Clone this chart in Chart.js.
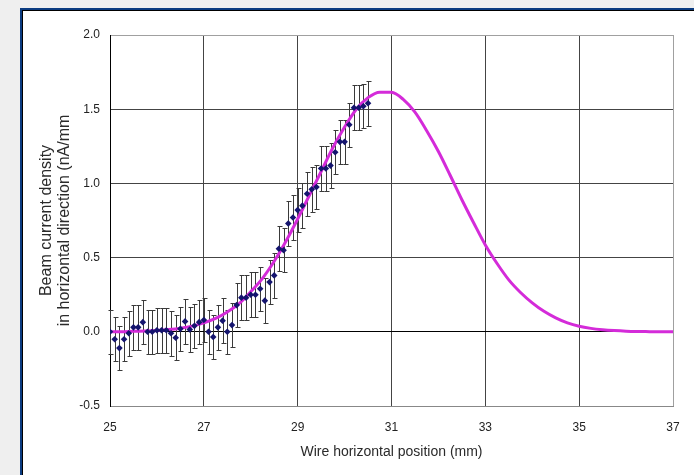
<!DOCTYPE html>
<html>
<head>
<meta charset="utf-8">
<script src="https://cdn.jsdelivr.net/npm/chart.js@4.4.0/dist/chart.umd.min.js"></script>
<style>
  html, body { margin: 0; padding: 0; background: #efefef; }
  #wrap { position: relative; width: 694px; height: 475px; overflow: hidden; }
  #frame { position: absolute; left: 20px; top: 8px; width: 700px; height: 500px; background: #fff;
    border-left: 2px solid #0b3b80; border-top: 2px solid #0b3b80; box-shadow: inset 1px 1px 0 #000; }
  #chart { position: absolute; left: 0; top: 0; }
</style>
</head>
<body>
<div id="wrap">
  <div id="frame"></div>
  <canvas id="chart" width="694" height="475"></canvas>
</div>
<script>
// measured wire positions (mm)
const posX = [
  25.0, 25.1, 25.2, 25.3, 25.4, 25.5, 25.6, 25.7, 25.8, 25.9,
  26.0, 26.1, 26.2, 26.3, 26.4, 26.5, 26.6, 26.7, 26.8, 26.9,
  27.0, 27.1, 27.2, 27.3, 27.4, 27.5, 27.6, 27.7, 27.8, 27.9,
  28.0, 28.1, 28.2, 28.3, 28.4, 28.5, 28.6, 28.7, 28.8, 28.9,
  29.0, 29.1, 29.2, 29.3, 29.4, 29.5, 29.6, 29.7, 29.8, 29.9,
  30.0, 30.1, 30.2, 30.3, 30.4, 30.5
];
// measured current density (nA/mm)
const density = [
  0.00, -0.05, -0.11, -0.05, -0.01, 0.03, 0.03, 0.065, 0.00, 0.00,
  0.01, 0.01, 0.01, -0.01, -0.04, 0.02, 0.07, 0.015, 0.04, 0.065,
  0.08, 0.00, -0.035, 0.03, 0.075, 0.00, 0.045, 0.18, 0.23, 0.23,
  0.25, 0.25, 0.29, 0.21, 0.335, 0.38, 0.56, 0.55, 0.73, 0.77,
  0.82, 0.85, 0.93, 0.96, 0.975, 1.10, 1.10, 1.12, 1.21, 1.28,
  1.28, 1.395, 1.51, 1.51, 1.52, 1.54
];
// error bar half-widths
const errs = [
  0.15, 0.15, 0.15, 0.15, 0.15, 0.15, 0.15, 0.15, 0.15, 0.15,
  0.15, 0.15, 0.15, 0.15, 0.15, 0.15, 0.15, 0.15, 0.15, 0.15,
  0.15, 0.15, 0.15, 0.15, 0.15, 0.15, 0.15, 0.15, 0.15, 0.15,
  0.15, 0.15, 0.15, 0.15, 0.15, 0.15, 0.15, 0.15, 0.15, 0.15,
  0.15, 0.15, 0.15, 0.15, 0.15, 0.15, 0.15, 0.15, 0.15, 0.15,
  0.15, 0.15, 0.15, 0.15, 0.15, 0.15
];
// fitted curve
const fitX = [
  25, 25.25, 25.5, 25.75, 26, 26.25, 26.5, 26.75, 27, 27.25, 27.5, 27.75,
  28, 28.25, 28.5, 28.75, 29, 29.25, 29.5, 29.75, 30, 30.25, 30.5, 30.75,
  31, 31.25, 31.5, 31.75, 32, 32.25, 32.5, 32.75, 33, 33.25, 33.5, 33.75,
  34, 34.25, 34.5, 34.75, 35, 35.25, 35.5, 35.75, 36, 36.25, 36.5, 36.75, 37
];
const fitY = [
  0.0, 0.0, 0.003, 0.005, 0.009, 0.015, 0.024, 0.038, 0.06, 0.09, 0.134, 0.19,
  0.27, 0.36, 0.475, 0.61, 0.76, 0.92, 1.08, 1.24, 1.38, 1.50, 1.578, 1.615,
  1.614, 1.566, 1.48, 1.355, 1.215, 1.055, 0.89, 0.735, 0.585, 0.46, 0.35, 0.265,
  0.195, 0.138, 0.094, 0.06, 0.037, 0.023, 0.014, 0.008, 0.004, 0.002, 0.001, 0.0, 0.0
];
const xTicks = [25, 27, 29, 31, 33, 35, 37];
const yTicks = [-0.5, 0, 0.5, 1.0, 1.5, 2.0];

const errorBars = {
  id: 'errorBars',
  beforeDatasetsDraw(chart) {
    const { ctx, scales: { x, y } } = chart;
    ctx.save();
    ctx.strokeStyle = '#3a3a3a';
    ctx.lineWidth = 1;
    ctx.beginPath();
    for (let i = 0; i < posX.length; i++) {
      const px = Math.round(x.getPixelForValue(posX[i])) + 0.5;
      const top = Math.round(y.getPixelForValue(density[i] + errs[i])) + 0.5;
      const bot = Math.round(y.getPixelForValue(density[i] - errs[i])) + 0.5;
      ctx.moveTo(px, top); ctx.lineTo(px, bot);
      ctx.moveTo(px - 2, top); ctx.lineTo(px + 3, top);
      ctx.moveTo(px - 2, bot); ctx.lineTo(px + 3, bot);
    }
    ctx.stroke();
    ctx.restore();
  }
};

const fam = 'Liberation Sans, Arial, sans-serif';
const tickFont = { family: fam, size: 12 };

new Chart(document.getElementById('chart'), {
  type: 'scatter',
  data: {
    datasets: [
      {
        label: 'measured',
        data: posX.map((v, i) => ({ x: v, y: density[i] })),
        pointStyle: 'rectRot',
        pointRadius: 3.3,
        backgroundColor: '#14146e',
        borderWidth: 0,
        showLine: false
      },
      {
        label: 'fit',
        data: fitX.map((v, i) => ({ x: v, y: fitY[i] })),
        showLine: true,
        borderColor: '#d42bd9',
        borderWidth: 3,
        pointRadius: 0,
        cubicInterpolationMode: 'monotone'
      }
    ]
  },
  options: {
    responsive: false,
    animation: false,
    events: [],
    layout: { padding: { left: 0, top: 35, right: 21, bottom: 0 } },
    plugins: { legend: { display: false }, tooltip: { enabled: false } },
    scales: {
      x: {
        type: 'linear', min: 25, max: 37,
        afterFit: s => { s.height = 69; },
        afterBuildTicks: s => { s.ticks = xTicks.map(v => ({ value: v })); },
        grid: {
          drawTicks: false,
          color: c => c.tick.value === 37 ? '#a0a0a0' : (c.tick.value === 25 ? '#000' : '#444')
        },
        border: { color: '#888' },
        ticks: { padding: 14, color: '#222', font: tickFont },
        title: { display: true, text: 'Wire horizontal position (mm)', color: '#2a2a2a',
          font: { family: fam, size: 14, lineHeight: 1.2 }, padding: { top: 4, bottom: 14 } }
      },
      y: {
        min: -0.5, max: 2.0,
        afterFit: s => { s.width = 110; },
        afterBuildTicks: s => { s.ticks = yTicks.map(v => ({ value: v })); },
        grid: {
          drawTicks: false,
          color: c => c.tick.value === 0 ? '#000' : (c.tick.value === 2 ? '#a0a0a0' : '#444')
        },
        border: { color: '#000' },
        ticks: { padding: 10, color: '#222', font: tickFont, callback: v => v.toFixed(1) },
        title: {
          display: true,
          text: ['Beam current density', 'in horizontal direction (nA/mm'],
          color: '#2a2a2a', font: { family: fam, size: 16, lineHeight: '18px' },
          padding: { top: 38, bottom: 0 }
        }
      }
    }
  },
  plugins: [errorBars]
});
</script>
</body>
</html>
